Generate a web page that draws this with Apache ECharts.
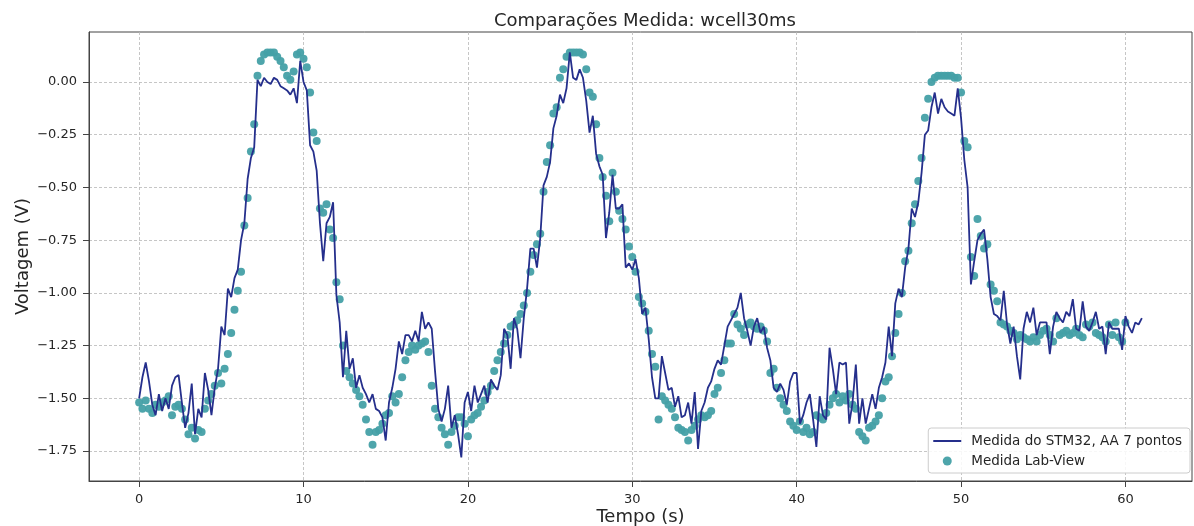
<!DOCTYPE html>
<html>
<head>
<meta charset="utf-8">
<script src="https://cdn.jsdelivr.net/npm/echarts@6/dist/echarts.min.js"></script>
<style>
html, body { margin: 0; padding: 0; background: #fff; }
#main { width: 1194px; height: 526px; }
</style>
</head>
<body>
<div id="main"></div>
<script>
// sampling step of both records (s)
var stepStm = 0.2;
var stepLab = 0.2;

// STM32 signal, moving average 7 points, t = 0 .. 61 s
var stm32Values = [
  -1.50,-1.40,-1.33,-1.42,-1.53,-1.58,-1.48,-1.56,-1.50,-1.55,
  -1.44,-1.40,-1.39,-1.52,-1.64,-1.57,-1.43,-1.67,-1.55,-1.59,
  -1.38,-1.46,-1.58,-1.45,-1.36,-1.16,-1.20,-0.98,-1.02,-0.93,
  -0.89,-0.75,-0.67,-0.46,-0.36,-0.31,0.01,-0.02,0.02,0.00,
  -0.01,0.02,0.01,-0.02,-0.03,-0.04,-0.06,-0.03,-0.10,0.10,
  0.00,-0.04,-0.30,-0.33,-0.42,-0.67,-0.85,-0.67,-0.64,-0.57,
  -1.01,-1.14,-1.40,-1.18,-1.36,-1.31,-1.45,-1.39,-1.45,-1.48,
  -1.52,-1.48,-1.55,-1.56,-1.59,-1.70,-1.52,-1.45,-1.36,-1.23,
  -1.29,-1.20,-1.20,-1.23,-1.18,-1.23,-1.09,-1.17,-1.14,-1.17,
  -1.37,-1.55,-1.61,-1.55,-1.44,-1.64,-1.58,-1.67,-1.78,-1.52,
  -1.47,-1.56,-1.44,-1.52,-1.48,-1.44,-1.52,-1.41,-1.44,-1.46,
  -1.39,-1.17,-1.20,-1.36,-1.12,-1.17,-1.31,-1.12,-0.98,-0.79,
  -0.79,-0.88,-0.74,-0.49,-0.45,-0.38,-0.22,-0.16,-0.06,-0.10,
  -0.03,0.14,0.02,0.01,0.06,0.02,-0.09,-0.24,-0.16,-0.34,
  -0.40,-0.44,-0.74,-0.62,-0.44,-0.60,-0.60,-0.58,-0.88,-0.86,
  -0.89,-0.84,-0.93,-1.10,-1.07,-1.22,-1.40,-1.50,-1.50,-1.30,
  -1.38,-1.46,-1.45,-1.54,-1.49,-1.59,-1.58,-1.52,-1.62,-1.47,
  -1.74,-1.56,-1.52,-1.45,-1.42,-1.36,-1.32,-1.34,-1.25,-1.16,
  -1.13,-1.10,-1.07,-1.00,-1.12,-1.18,-1.25,-1.16,-1.12,-1.19,
  -1.16,-1.26,-1.32,-1.45,-1.47,-1.43,-1.46,-1.53,-1.42,-1.38,
  -1.38,-1.62,-1.58,-1.52,-1.48,-1.60,-1.73,-1.49,-1.58,-1.60,
  -1.26,-1.36,-1.48,-1.33,-1.34,-1.33,-1.62,-1.52,-1.34,-1.62,
  -1.50,-1.62,-1.55,-1.48,-1.55,-1.45,-1.40,-1.33,-1.16,-1.30,
  -1.05,-0.98,-1.02,-0.88,-0.79,-0.60,-0.64,-0.57,-0.43,-0.25,
  -0.23,-0.12,-0.05,-0.15,-0.08,-0.12,-0.14,-0.15,-0.16,-0.03,
  -0.17,-0.37,-0.50,-0.96,-0.85,-0.75,-0.72,-0.70,-0.84,-1.02,
  -1.10,-1.11,-1.13,-0.99,-1.15,-1.24,-1.16,-1.30,-1.41,-1.17,
  -1.09,-1.14,-1.07,-1.20,-1.14,-1.14,-1.14,-1.29,-1.16,-1.09,
  -1.12,-1.14,-1.09,-1.11,-1.03,-1.17,-1.18,-1.04,-1.16,-1.18,
  -1.14,-1.09,-1.17,-1.16,-1.29,-1.14,-1.17,-1.17,-1.17,-1.27,
  -1.11,-1.16,-1.19,-1.14,-1.15,-1.12
];

// Lab-View record, t = 0 .. 60 s
var labValues = [
  -1.52,-1.55,-1.51,-1.55,-1.57,-1.53,-1.54,-1.52,-1.51,-1.49,
  -1.58,-1.54,-1.53,-1.55,-1.60,-1.67,-1.64,-1.69,-1.65,-1.66,
  -1.55,-1.51,-1.48,-1.44,-1.38,-1.43,-1.36,-1.29,-1.19,-1.08,
  -0.99,-0.90,-0.68,-0.55,-0.33,-0.20,0.03,0.10,0.13,0.14,
  0.14,0.14,0.12,0.10,0.07,0.03,0.01,0.05,0.13,0.14,
  0.11,0.07,-0.05,-0.24,-0.28,-0.60,-0.62,-0.58,-0.70,-0.74,
  -0.95,-1.03,-1.25,-1.37,-1.40,-1.43,-1.46,-1.49,-1.53,-1.60,
  -1.66,-1.72,-1.66,-1.65,-1.62,-1.58,-1.57,-1.49,-1.52,-1.48,
  -1.40,-1.32,-1.28,-1.25,-1.27,-1.25,-1.24,-1.23,-1.28,-1.44,
  -1.55,-1.59,-1.64,-1.67,-1.72,-1.66,-1.63,-1.59,-1.59,-1.62,
  -1.68,-1.60,-1.58,-1.57,-1.54,-1.51,-1.47,-1.44,-1.37,-1.32,
  -1.28,-1.24,-1.20,-1.16,-1.15,-1.13,-1.10,-1.06,-1.00,-0.90,
  -0.82,-0.77,-0.72,-0.52,-0.38,-0.30,-0.15,-0.12,0.02,0.06,
  0.12,0.14,0.14,0.14,0.14,0.13,0.06,-0.05,-0.07,-0.20,
  -0.36,-0.45,-0.54,-0.66,-0.43,-0.52,-0.61,-0.65,-0.70,-0.78,
  -0.83,-0.90,-1.02,-1.05,-1.09,-1.18,-1.29,-1.35,-1.60,-1.49,
  -1.51,-1.53,-1.55,-1.59,-1.64,-1.65,-1.66,-1.70,-1.65,-1.63,
  -1.60,-1.58,-1.59,-1.58,-1.56,-1.48,-1.45,-1.38,-1.32,-1.24,
  -1.24,-1.10,-1.15,-1.17,-1.20,-1.15,-1.14,-1.16,-1.17,-1.16,
  -1.18,-1.23,-1.38,-1.36,-1.45,-1.50,-1.53,-1.56,-1.61,-1.63,
  -1.65,-1.61,-1.66,-1.64,-1.67,-1.66,-1.58,-1.59,-1.60,-1.57,
  -1.53,-1.50,-1.48,-1.52,-1.49,-1.51,-1.48,-1.53,-1.55,-1.66,
  -1.68,-1.70,-1.64,-1.63,-1.61,-1.58,-1.50,-1.42,-1.40,-1.30,
  -1.19,-1.10,-1.00,-0.85,-0.80,-0.67,-0.58,-0.47,-0.36,-0.17,
  -0.08,0.00,0.02,0.03,0.03,0.03,0.03,0.03,0.02,0.02,
  -0.05,-0.28,-0.31,-0.83,-0.92,-0.65,-0.73,-0.79,-0.77,-0.96,
  -0.99,-1.04,-1.14,-1.15,-1.16,-1.18,-1.19,-1.22,-1.20,-1.21,
  -1.22,-1.23,-1.21,-1.23,-1.20,-1.18,-1.17,-1.20,-1.23,-1.12,
  -1.20,-1.19,-1.18,-1.20,-1.19,-1.17,-1.20,-1.21,-1.15,-1.16,
  -1.14,-1.19,-1.20,-1.21,-1.23,-1.15,-1.20,-1.14,-1.21,-1.23,
  -1.14
];

var xTicks = [0, 10, 20, 30, 40, 50, 60];
var yTicks = [-1.75, -1.5, -1.25, -1.0, -0.75, -0.5, -0.25, 0];

var stmData = stm32Values.map(function (v, i) { return [+(i * stepStm).toFixed(2), v]; });
var labData = labValues.map(function (v, i) { return [+(i * stepLab).toFixed(2), v]; });

var font = 'DejaVu Sans';
var textColor = '#262626';
var lineColor = '#252f8c';

var myChart = echarts.init(document.getElementById('main'));
var option = {
  animation: false,
  backgroundColor: '#ffffff',
  title: {
    text: 'Comparações Medida: wcell30ms',
    left: 489,
    top: 7,
    textStyle: { fontFamily: font, fontSize: 18, fontWeight: 'normal', color: textColor }
  },
  grid: {
    left: 89, right: 2, top: 32, bottom: 45,
    outerBoundsMode: 'none',
    containLabel: false,
    show: true, borderColor: '#444', borderWidth: 1, backgroundColor: 'transparent'
  },
  legend: {
    orient: 'vertical',
    right: 4,
    bottom: 53,
    itemWidth: 28,
    itemHeight: 9,
    itemGap: 6,
    padding: [6, 8, 5, 4],
    backgroundColor: 'rgba(255,255,255,0.85)',
    borderColor: '#cccccc',
    borderWidth: 1,
    borderRadius: 3,
    textStyle: { fontFamily: font, fontSize: 13.5, color: textColor, padding: [0, 0, 0, 5] },
    data: [
      { name: 'Medida do STM32, AA 7 pontos', itemStyle: { opacity: 0 }, lineStyle: { width: 2 } },
      { name: 'Medida Lab-View', icon: 'circle' }
    ]
  },
  xAxis: {
    type: 'value',
    min: -3.05,
    max: 64.05,
    name: 'Tempo (s)',
    nameLocation: 'middle',
    nameGap: 27,
    nameMoveOverlap: false,
    nameTextStyle: { fontFamily: font, fontSize: 18, color: textColor, verticalAlign: 'top' },
    axisLine: { onZero: false, lineStyle: { color: '#444', width: 1 } },
    axisTick: { show: true, length: 6, lineStyle: { color: '#444' }, customValues: xTicks },
    axisLabel: {
      customValues: xTicks,
      fontFamily: font, fontSize: 13, color: textColor, margin: 12,
      formatter: function (v) { return String(Math.round(v)); }
    },
    splitLine: { show: true, lineStyle: { color: '#b8b8b8', width: 0.8, type: [3, 2] } }
  },
  yAxis: {
    type: 'value',
    min: -1.892,
    max: 0.237,
    name: 'Voltagem (V)',
    nameLocation: 'middle',
    nameGap: 57,
    nameMoveOverlap: false,
    nameTextStyle: { fontFamily: font, fontSize: 18, color: textColor },
    axisLine: { show: true, onZero: false, lineStyle: { color: '#444', width: 1 } },
    axisTick: { show: true, length: 6, lineStyle: { color: '#444' }, customValues: yTicks },
    axisLabel: {
      customValues: yTicks,
      fontFamily: font, fontSize: 13, color: textColor, margin: 12,
      formatter: function (v) {
        var s = Math.abs(v) < 1e-9 ? '0.00' : v.toFixed(2);
        return s.replace('-', '\u2212');
      }
    },
    splitLine: { show: true, lineStyle: { color: '#b8b8b8', width: 0.8, type: [3, 2] } }
  },
  series: [
    {
      name: 'Medida Lab-View',
      type: 'scatter',
      data: labData,
      symbolSize: 8,
      z: 2,
      itemStyle: { color: '#44a0a6', opacity: 0.95 }
    },
    {
      name: 'Medida do STM32, AA 7 pontos',
      type: 'line',
      data: stmData,
      symbol: 'none',
      z: 3,
      lineStyle: { color: lineColor, width: 1.8 },
      itemStyle: { color: lineColor }
    }
  ]
};
myChart.setOption(option);
</script>
</body>
</html>
